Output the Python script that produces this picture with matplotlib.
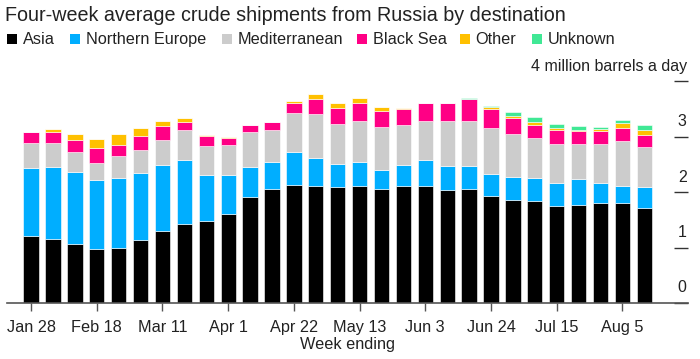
import matplotlib.pyplot as plt
import matplotlib.patches as mpatches
import matplotlib.transforms as mtransforms
import numpy as np

plt.rcParams['font.family'] = ['Liberation Sans', 'DejaVu Sans']

weeks = ["Jan 28", "Feb 4", "Feb 11", "Feb 18", "Feb 25", "Mar 4", "Mar 11", "Mar 18",
         "Mar 25", "Apr 1", "Apr 8", "Apr 15", "Apr 22", "Apr 29", "May 6", "May 13",
         "May 20", "May 27", "Jun 3", "Jun 10", "Jun 17", "Jun 24", "Jul 1", "Jul 8",
         "Jul 15", "Jul 22", "Jul 29", "Aug 5", "Aug 12"]

asia = [1.21, 1.15, 1.07, 0.97, 0.99, 1.13, 1.29, 1.43, 1.47, 1.61, 1.91, 2.05, 2.13, 2.11, 2.09,
        2.11, 2.05, 2.11, 2.11, 2.03, 2.05, 1.93, 1.85, 1.83, 1.75, 1.77, 1.81, 1.81, 1.71]
north_europe = [1.23, 1.31, 1.30, 1.25, 1.26, 1.22, 1.20, 1.14, 0.84, 0.70, 0.54, 0.49, 0.60, 0.51, 0.42,
                0.43, 0.34, 0.38, 0.46, 0.44, 0.42, 0.40, 0.42, 0.42, 0.42, 0.46, 0.36, 0.30, 0.38]
mediterranean = [0.44, 0.43, 0.36, 0.31, 0.40, 0.40, 0.44, 0.54, 0.52, 0.54, 0.64, 0.58, 0.70, 0.78, 0.72,
                 0.74, 0.78, 0.72, 0.72, 0.82, 0.82, 0.82, 0.78, 0.72, 0.69, 0.63, 0.69, 0.81, 0.72]
black_sea = [0.20, 0.20, 0.20, 0.26, 0.20, 0.26, 0.26, 0.16, 0.18, 0.13, 0.12, 0.14, 0.18, 0.28, 0.28,
             0.33, 0.30, 0.28, 0.32, 0.32, 0.38, 0.34, 0.28, 0.24, 0.26, 0.24, 0.24, 0.24, 0.22]
other = [0.00, 0.04, 0.11, 0.16, 0.19, 0.14, 0.10, 0.06, 0.02, 0.02, 0.00, 0.00, 0.03, 0.08, 0.10,
         0.08, 0.06, 0.02, 0.00, 0.00, 0.00, 0.04, 0.04, 0.06, 0.04, 0.02, 0.04, 0.08, 0.08]
unknown = [0.00, 0.00, 0.00, 0.00, 0.00, 0.00, 0.00, 0.00, 0.00, 0.00, 0.00, 0.00, 0.00, 0.00, 0.00,
           0.00, 0.00, 0.00, 0.00, 0.00, 0.03, 0.03, 0.08, 0.08, 0.06, 0.08, 0.04, 0.06, 0.10]

series = [("Asia", asia, "#000000"),
          ("Northern Europe", north_europe, "#00aeff"),
          ("Mediterranean", mediterranean, "#cccccc"),
          ("Black Sea", black_sea, "#ff0085"),
          ("Other", other, "#ffc000"),
          ("Unknown", unknown, "#40e895")]

y_ticks = [0, 1, 2, 3, 4]
tick_every = 3

fig = plt.figure(figsize=(7, 3.59), dpi=100)
ax = fig.add_axes([0.010, 0.156, 0.973, 0.618])

x = np.arange(len(weeks))
bottom = np.zeros(len(weeks))
for name, vals, col in series:
    vals = np.array(vals)
    ax.bar(x, vals, width=0.70, bottom=bottom, color=col, edgecolor="white", linewidth=0.4)
    bottom += vals

ax.set_xlim(-1.10, 30.0)
ax.set_ylim(0, 4)

for s in ["top", "right", "left"]:
    ax.spines[s].set_visible(False)
ax.spines["bottom"].set_color("#555555")
ax.spines["bottom"].set_linewidth(1.2)

ax.set_xticks(x[::tick_every])
ax.set_xticklabels(weeks[::tick_every])
ax.tick_params(axis="x", length=6, width=1, color="#555555", labelsize=11.7, labelcolor="#222222", pad=6)

# right side y ticks, label sits above the tick
ax.set_yticks(y_ticks)
ax.tick_params(axis="y", left=False, right=True, direction="in", length=10, width=1,
               color="#333333", labelleft=False, labelright=False)
off = mtransforms.offset_copy(ax.get_yaxis_transform(), fig=fig, x=-1, y=10.8, units="points")
for v in y_ticks:
    lab = "4 million barrels a day" if v == 4 else str(v)
    ax.text(1.0, v, lab, transform=off, ha="right", va="center", fontsize=11.5, color="#222222")

ax.set_xlabel("Week ending", fontsize=11.7, color="#222222", labelpad=2)

fig.text(0.007, 0.958, "Four-week average crude shipments from Russia by destination",
         fontsize=14.2, color="#222222", ha="left", va="center")

# legend row
leg_x = [0.010, 0.100, 0.317, 0.510, 0.657, 0.760]
for (name, vals, col), lx in zip(series, leg_x):
    fig.patches.append(mpatches.Rectangle((lx, 0.877), 0.0143, 0.029, transform=fig.transFigure,
                                          facecolor=col, edgecolor="none"))
    fig.text(lx + 0.0225, 0.891, name, fontsize=11.7, color="#222222", ha="left", va="center")

fig.savefig("out.png", dpi=100)
